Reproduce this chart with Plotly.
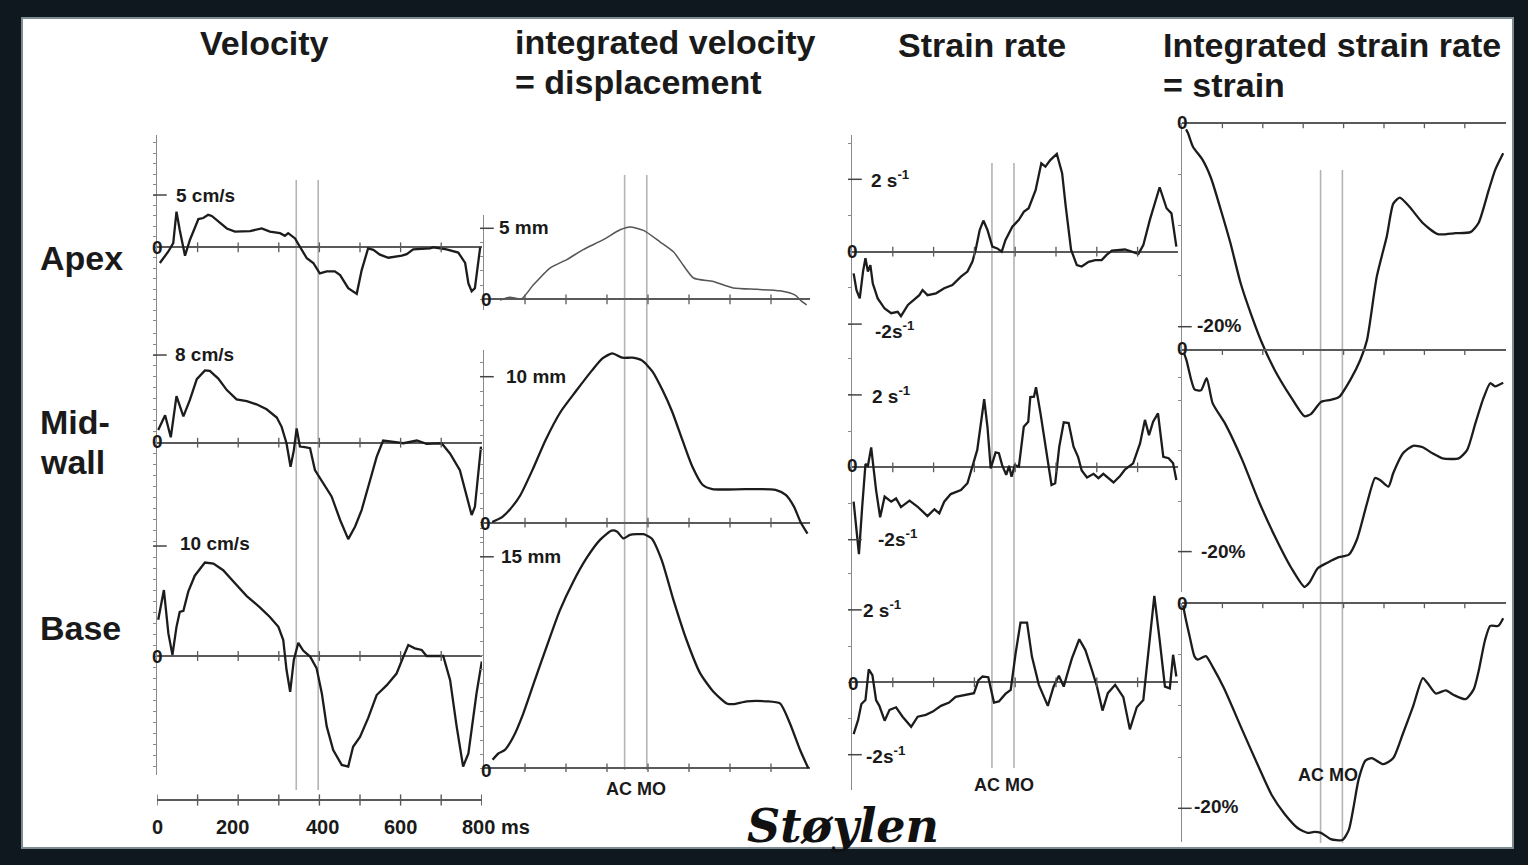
import plotly.graph_objects as go

W, H = 1528, 865

# ---------------- data: (time in ms, value) ----------------
AC_MS = 343
MO_MS = 397

vel_apex = [(7,-1.5),(28,-0.4),(40,0.4),(48,3.4),(56,1.65),(69,-0.8),(81,0.7),(102,2.7),(114,2.8),(126,3.1),
            (135,3.0),(155,2.3),(172,1.8),(192,1.5),(229,1.55),(258,1.8),(278,1.5),(303,1.35),(315,1.1),(323,1.35),
            (340,0.85),(352,0.05),(369,-1.05),(385,-1.5),(401,-2.5),(418,-2.3),(438,-2.3),(451,-2.65),(471,-3.9),(492,-4.45),
            (504,-2.2),(520,-0.1),(533,-0.25),(549,-0.7),(570,-1.0),(603,-0.8),(615,-0.65),(631,-0.2),(672,-0.1),(681,0),
            (713,-0.2),(742,-0.5),(759,-1.5),(767,-3.45),(775,-4.2),(783,-3.9),(796,0)]
vel_mid = [(3,1.15),(20,2.5),(34,0.5),(48,4.25),(65,2.4),(81,3.9),(98,5.8),(118,6.6),(130,6.55),(151,5.85),
           (172,4.8),(196,3.95),(221,3.8),(245,3.5),(270,3.05),(295,2.3),(307,1.45),(319,-0.05),(329,-2.2),(337,-0.7),
           (344,1.3),(352,-0.35),(364,-0.4),(377,-0.5),(389,-2.5),(406,-3.55),(430,-4.9),(451,-7.05),(471,-8.8),(488,-7.65),
           (504,-6.15),(525,-3.4),(541,-1.3),(557,0.2),(582,0.1),(607,-0.05),(640,0.2),(664,-0.1),(701,-0.05),(722,-1.0),
           (746,-2.5),(763,-4.9),(775,-6.6),(783,-5.85),(798,-0.35)]
vel_base = [(3,3.3),(17,6.0),(28,2.05),(38,0.1),(48,2.65),(56,4.0),(65,4.1),(77,5.85),(93,7.3),(118,8.5),
            (139,8.4),(163,7.8),(196,6.45),(221,5.45),(254,4.4),(278,3.55),(299,2.65),(311,1.45),(319,-1.25),(328,-3.25),
            (337,-0.35),(348,1.2),(360,0.5),(377,-0.05),(393,-1.1),(406,-3.4),(418,-6.4),(434,-8.55),(455,-9.9),(471,-10.05),
            (483,-8.25),(500,-7.35),(520,-5.65),(541,-3.55),(566,-2.65),(590,-1.6),(607,-0.05),(619,1.0),(635,0.7),(652,0.55),
            (664,0),(705,0),(722,-2.2),(738,-6.4),(754,-10.05),(767,-8.85),(787,-3.4),(800,-0.5)]

disp_apex = [(39,-0.05),(63,0.15),(92,0.05),(120,1.0),(161,2.2),(202,2.8),(242,3.5),(291,4.2),(332,4.9),(356,5.1),
             (389,4.85),(429,4.05),(462,3.35),(486,2.4),(511,1.5),(559,1.25),(608,0.8),(665,0.7),(722,0.6),(759,0.3),
             (775,-0.15),(787,-0.4)]
disp_mid = [(20,0.05),(45,0.4),(69,1.1),(89,1.9),(118,3.6),(150,5.65),(187,7.6),(224,9.0),(264,10.45),(289,11.25),
            (313,11.6),(337,11.3),(362,11.3),(386,11.1),(411,10.35),(435,9.1),(459,7.6),(484,5.65),(508,3.85),(533,2.6),
            (557,2.3),(638,2.3),(711,2.25),(736,1.9),(756,1.1),(772,0.05),(789,-0.75)]
disp_base = [(21,0.6),(35,1.05),(51,1.3),(72,2.25),(96,3.9),(124,6.25),(153,8.65),(185,11.2),(218,13.25),(250,14.9),
             (283,16.2),(311,16.85),(324,16.8),(340,16.3),(356,16.55),(389,16.6),(409,16.3),(433,14.8),(462,11.95),(494,9.1),
             (527,6.75),(559,5.45),(592,4.6),(608,4.55),(641,4.75),(689,4.75),(722,4.6),(746,3.2),(771,1.3),(791,0)]

sr_apex = [(4,-0.6),(11,-1.06),(19,-1.29),(27,-0.55),(33,-0.18),(39,-0.55),(45,-0.37),(51,-0.88),(63,-1.29),(80,-1.57),
           (96,-1.7),(112,-1.66),(120,-1.78),(137,-1.47),(153,-1.32),(165,-1.2),(173,-1.06),(185,-1.2),(206,-1.15),(226,-1.01),
           (246,-0.92),(267,-0.69),(283,-0.55),(295,-0.28),(303,0.05),(313,0.6),(322,0.86),(332,0.6),(344,0.14),(356,0.09),
           (367,0),(376,0.32),(393,0.69),(409,0.88),(421,1.1),(433,1.2),(450,1.7),(464,2.44),(474,2.35),(486,2.53),
           (502,2.7),(515,2.17),(524,1.24),(537,0.05),(551,-0.37),(563,-0.41),(580,-0.28),(596,-0.23),(612,-0.23),(624,-0.09),
           (637,0.03),(669,0.06),(702,-0.06),(714,0.18),(730,0.88),(754,1.78),(771,1.2),(783,1.06),(795,0.14)]
sr_mid = [(4,-0.95),(11,-1.73),(17,-2.4),(25,-1.09),(33,0.09),(39,0.04),(47,0.55),(59,-0.63),(69,-1.38),(80,-0.81),
          (96,-0.95),(108,-0.86),(120,-1.1),(141,-0.92),(161,-1.09),(185,-1.35),(202,-1.16),(214,-1.27),(226,-0.95),(242,-0.74),
          (267,-0.63),(283,-0.44),(295,0),(307,0.48),(324,1.88),(332,1.12),(340,-0.03),(352,0.41),(360,0.39),(368,0.06),
          (378,-0.21),(385,0.04),(391,-0.26),(399,0.06),(409,0.02),(421,1.12),(432,1.26),(437,1.94),(446,1.95),(451,2.21),
          (462,1.49),(474,0.57),(489,-0.49),(498,-0.44),(508,0.57),(519,1.24),(531,1.22),(543,0.57),(554,0.29),(563,-0.09),
          (576,-0.28),(592,-0.18),(604,-0.3),(616,-0.18),(641,-0.42),(657,-0.24),(669,-0.06),(689,0.11),(706,0.66),(718,1.31),
          (728,0.89),(738,1.26),(750,1.49),(763,0.29),(776,0.25),(787,0.11),(795,-0.35)]
sr_base = [(4,-1.43),(15,-1.04),(23,-0.6),(33,-0.49),(41,0.36),(50,0.2),(59,-0.49),(67,-0.65),(80,-1.06),(92,-0.76),
           (108,-0.69),(124,-0.95),(145,-1.23),(161,-0.95),(181,-0.9),(198,-0.81),(218,-0.65),(238,-0.56),(254,-0.4),(279,-0.35),
           (299,-0.3),(310,0.06),(320,0.16),(334,0.14),(348,-0.56),(360,-0.53),(376,-0.32),(389,-0.21),(401,0.8),(413,1.65),
           (429,1.65),(441,0.71),(458,-0.07),(480,-0.65),(494,-0.12),(507,0.18),(519,-0.12),(527,0.2),(539,0.66),(557,1.19),
           (572,0.89),(588,0.34),(600,-0.1),(614,-0.78),(627,-0.3),(645,-0.07),(665,-0.41),(681,-1.3),(698,-0.69),(714,-0.49),
           (728,0.99),(741,2.39),(754,1.17),(767,-0.12),(779,-0.17),(787,0.76),(795,0.16)]

strain_apex = [(10,-0.6),(15,-0.98),(27,-2.3),(51,-3.6),(72,-5.4),(96,-8.5),(120,-11.8),(145,-15.7),(173,-19.0),(198,-21.6),
               (230,-24.3),(271,-27.0),(303,-28.8),(319,-28.6),(344,-27.4),(368,-27.2),(389,-26.9),(417,-25.2),(441,-23.3),(458,-21.3),
               (482,-15.1),(507,-11.1),(523,-7.9),(539,-7.3),(563,-8.2),(596,-9.8),(633,-10.9),(677,-10.8),(714,-10.7),(734,-9.8),
               (759,-6.6),(775,-4.6),(795,-2.95)]
strain_mid = [(5,-0.3),(11,-1.0),(23,-3.0),(31,-3.9),(47,-4.0),(61,-2.8),(76,-5.3),(108,-7.4),(149,-10.9),(189,-14.9),
              (230,-18.5),(271,-21.65),(303,-23.5),(315,-23.1),(336,-21.65),(360,-21.1),(385,-20.6),(413,-20.3),(433,-18.8),(458,-15.2),
              (478,-12.7),(490,-12.9),(511,-13.55),(523,-12.2),(547,-10.25),(572,-9.5),(596,-9.65),(620,-10.25),(645,-10.75),(685,-10.75),
              (706,-9.9),(726,-7.3),(746,-4.8),(763,-3.3),(775,-3.6),(795,-3.25)]
strain_base = [(3,-0.2),(7,-1.1),(19,-3.25),(31,-5.2),(39,-5.5),(59,-5.15),(76,-6.2),(104,-8.3),(149,-12.35),(189,-15.9),
               (222,-18.7),(254,-20.55),(287,-21.95),(311,-22.4),(328,-22.3),(344,-22.4),(368,-23.0),(397,-23.1),(413,-22.1),(425,-19.8),
               (437,-17.2),(454,-15.35),(470,-15.1),(498,-15.7),(523,-15.1),(547,-12.7),(572,-10.05),(596,-7.3),(608,-7.8),(628,-8.8),
               (653,-8.5),(673,-8.95),(702,-9.35),(722,-8.4),(734,-6.65),(750,-3.6),(763,-2.2),(783,-2.2),(795,-1.45)]

zero_ticks_ms = [100, 200, 300, 400, 500, 600, 700]
time_ticks_ms = [0, 100, 200, 300, 400, 500, 600, 700, 800]
time_tick_labels = ["0", "200", "400", "600", "800 ms"]

# ---------------- layout geometry (pixels) ----------------
cols = {
    1: dict(xl=157, xr=482, x0=157, kx=0.406),
    2: dict(xl=484, xr=810, x0=484, kx=0.41),
    3: dict(xl=852, xr=1178, x0=852, kx=0.408),
    4: dict(xl=1182, xr=1506, x0=1182, kx=0.404),
}
panels = [
    dict(d=vel_apex, col=1, top=135, bot=330, y0=247.3, ky=10.46, dt=1, shape='linear'),
    dict(d=vel_mid, col=1, top=330, bot=545, y0=442.7, ky=10.96, dt=1, shape='linear'),
    dict(d=vel_base, col=1, top=545, bot=775, y0=656.0, ky=11.0, dt=1, shape='linear'),
    dict(d=disp_apex, col=2, top=215, bot=310, y0=299.3, ky=14.2, dt=1, shape='spline', thin=True),
    dict(d=disp_mid, col=2, top=350, bot=540, y0=522.7, ky=14.6, dt=1, shape='spline'),
    dict(d=disp_base, col=2, top=528, bot=772, y0=768.3, ky=14.1, dt=1, shape='spline'),
    dict(d=sr_apex, col=3, top=135, bot=345, y0=251.7, ky=36.2, dt=1, shape='linear'),
    dict(d=sr_mid, col=3, top=345, bot=560, y0=467.3, ky=36.2, dt=1, shape='linear'),
    dict(d=sr_base, col=3, top=560, bot=790, y0=682.3, ky=36.2, dt=1, shape='linear'),
    dict(d=strain_apex, col=4, top=123, bot=420, y0=123.3, ky=10.17, dt=5, shape='spline'),
    dict(d=strain_mid, col=4, top=350, bot=592, y0=350.0, ky=10.08, dt=5, shape='spline'),
    dict(d=strain_base, col=4, top=603, bot=842, y0=603.3, ky=10.25, dt=5, shape='spline'),
]
# labelled y ticks: (panel index, value)
labelled_ticks = [(1, 5), (2, 8), (3, 10), (4, 5), (5, 10), (6, 15),
                  (7, 2), (7, -2), (8, 2), (8, -2), (9, 2), (9, -2),
                  (10, -20), (11, -20), (12, -20)]
vline_extent = {1: (180, 790), 2: (175, 770), 3: (163, 768), 4: (170, 843)}

CURVE = '#1c1c1c'
AXIS = '#8a8a8a'
ZERO = '#5a5a5a'
FONT = 'Liberation Sans, Arial, sans-serif'

fig = go.Figure()
lay = {}
for i, p in enumerate(panels, start=1):
    c = cols[p['col']]
    sfx = '' if i == 1 else str(i)
    lay['xaxis' + sfx] = dict(domain=[c['xl'] / W, c['xr'] / W],
                              range=[(c['xl'] - c['x0']) / c['kx'], (c['xr'] - c['x0']) / c['kx']],
                              visible=False, anchor='y' + sfx, fixedrange=True)
    lay['yaxis' + sfx] = dict(domain=[1 - p['bot'] / H, 1 - p['top'] / H],
                              range=[(p['y0'] - p['bot']) / p['ky'], (p['y0'] - p['top']) / p['ky']],
                              anchor='x' + sfx, showline=True, linecolor=AXIS, linewidth=1.3,
                              ticks='outside', ticklen=3, tickwidth=1, tickcolor=AXIS,
                              tick0=0, dtick=p['dt'], showticklabels=False, showgrid=False,
                              zeroline=True, zerolinecolor=ZERO, zerolinewidth=1.8, fixedrange=True)
    t = [a for a, b in p['d']]
    v = [b for a, b in p['d']]
    thin = p.get('thin', False)
    fig.add_trace(go.Scatter(x=t, y=v, xaxis='x' + sfx, yaxis='y' + sfx, mode='lines',
                             line=dict(color='#555555' if thin else CURVE, width=1.5 if thin else 2.3,
                                       shape=p['shape'], smoothing=0.6 if p['shape'] == 'spline' else None),
                             hoverinfo='skip', showlegend=False))
    fig.add_trace(go.Scatter(x=zero_ticks_ms, y=[0] * len(zero_ticks_ms), xaxis='x' + sfx, yaxis='y' + sfx,
                             mode='markers', marker=dict(symbol='line-ns', size=7, line=dict(width=1.3, color=ZERO)),
                             hoverinfo='skip', showlegend=False))

# bottom time axis of the velocity column
n = len(panels) + 1
c = cols[1]
lay[f'xaxis{n}'] = dict(domain=[c['xl'] / W, c['xr'] / W],
                        range=[(c['xl'] - c['x0']) / c['kx'], (c['xr'] - c['x0']) / c['kx']],
                        visible=False, anchor=f'y{n}', fixedrange=True)
lay[f'yaxis{n}'] = dict(domain=[1 - 808 / H, 1 - 792 / H], range=[-1, 1], anchor=f'x{n}', visible=True,
                        showline=False, showticklabels=False, showgrid=False, ticks='',
                        zeroline=True, zerolinecolor=ZERO, zerolinewidth=1.8, fixedrange=True)
fig.add_trace(go.Scatter(x=time_ticks_ms, y=[0] * len(time_ticks_ms), xaxis=f'x{n}', yaxis=f'y{n}',
                         mode='markers', marker=dict(symbol='line-ns', size=8, line=dict(width=1.4, color=ZERO)),
                         hoverinfo='skip', showlegend=False))

shapes = [
    dict(type='rect', xref='paper', yref='paper', x0=22 / W, x1=1513 / W, y0=1 - 848 / H, y1=1 - 18 / H,
         fillcolor='white', line=dict(color='#7d8c92', width=2), layer='below'),
]
first_panel = {1: 1, 2: 4, 3: 7, 4: 10}
for col, (ytop, ybot) in vline_extent.items():
    i = first_panel[col]
    sfx = '' if i == 1 else str(i)
    for ms in (AC_MS, MO_MS):
        shapes.append(dict(type='line', xref='x' + sfx, yref='paper', x0=ms, x1=ms,
                           y0=1 - ybot / H, y1=1 - ytop / H, line=dict(color='#b4b4b4', width=1.6), layer='below'))
for i, val in labelled_ticks:
    sfx = '' if i == 1 else str(i)
    shapes.append(dict(type='line', xref=f'x{sfx} domain', yref='y' + sfx, x0=-0.012, x1=0.03, y0=val, y1=val,
                       line=dict(color='#444', width=1.5)))

annotations = []


def txt(s, px, py, size=19, anchor='left', **kw):
    annotations.append(dict(text=s, x=px / W, y=1 - py / H, xref='paper', yref='paper', showarrow=False,
                            xanchor=anchor, yanchor='middle', font=dict(family=kw.get('family', FONT), size=size,
                                                                       color=kw.get('color', '#1a1a1a'))))


# titles
TS = 34
txt('<b>Velocity</b>', 264, 43, TS, 'center')
txt('<b>integrated velocity</b>', 513, 42, TS)
txt('<b>= displacement</b>', 513, 82, TS)
txt('<b>Strain rate</b>', 982, 45, TS, 'center')
txt('<b>Integrated strain rate</b>', 1161, 45, TS)
txt('<b>= strain</b>', 1161, 85, TS)
# row labels
txt('<b>Apex</b>', 38, 258, TS)
txt('<b>Mid-</b>', 38, 422, TS)
txt('<b>wall</b>', 38, 462, TS)
txt('<b>Base</b>', 38, 628, TS)
# axis value labels
for s, x, y, a in [('5 cm/s', 174, 195, 'left'), ('0', 157, 247, 'center'), ('8 cm/s', 173, 355, 'left'),
                   ('0', 157, 441, 'center'), ('10 cm/s', 178, 543, 'left'), ('0', 157, 656, 'center'),
                   ('5 mm', 497, 228, 'left'), ('0', 486, 299, 'center'), ('10 mm', 504, 376, 'left'),
                   ('0', 485, 523, 'center'), ('15 mm', 499, 556, 'left'), ('0', 486, 770, 'center'),
                   ('2 s<sup>-1</sup>', 869, 179, 'left'), ('0', 852, 251, 'center'), ('-2s<sup>-1</sup>', 873, 330, 'left'),
                   ('2 s<sup>-1</sup>', 870, 395, 'left'), ('0', 852, 466, 'center'), ('-2s<sup>-1</sup>', 876, 538, 'left'),
                   ('2 s<sup>-1</sup>', 861, 609, 'left'), ('0', 853, 683, 'center'), ('-2s<sup>-1</sup>', 864, 755, 'left'),
                   ('0', 1182, 123, 'center'), ('-20%', 1195, 326, 'left'), ('0', 1182, 348, 'center'),
                   ('-20%', 1199, 551, 'left'), ('0', 1182, 603, 'center'), ('-20%', 1192, 806, 'left')]:
    txt('<b>' + s + '</b>', x, y, 19, a)
for x, y in [(636, 789), (1004, 785), (1328, 775)]:
    txt('<b>AC MO</b>', x, y, 18, 'center')
for s, x in zip(time_tick_labels, [157, 233, 322, 400, 496]):
    txt('<b>' + s + '</b>', x, 827, 20, 'center')
txt('<b><i>Støylen</i></b>', 843, 826, 46, 'center', family='DejaVu Serif, serif', color='#111')

fig.update_layout(width=W, height=H, margin=dict(l=0, r=0, t=0, b=0), paper_bgcolor='#0e181e',
                  plot_bgcolor='rgba(0,0,0,0)', showlegend=False, shapes=shapes, annotations=annotations, **lay)
fig.write_html('out.html')
